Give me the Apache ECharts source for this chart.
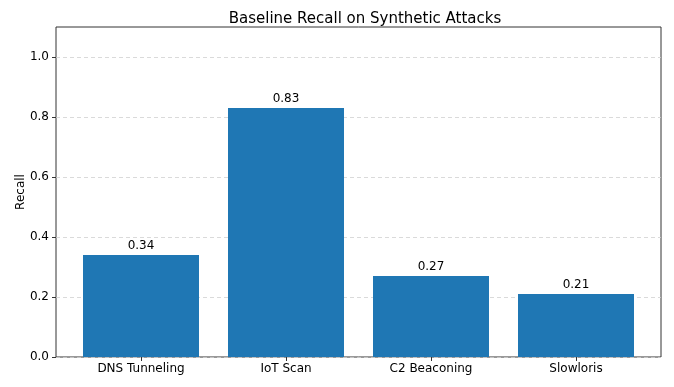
<!DOCTYPE html>
<html><head><meta charset="utf-8">
<script src="https://cdn.jsdelivr.net/npm/echarts@6/dist/echarts.min.js"></script>
<style>html,body{margin:0;padding:0;background:#fff}#c{width:674px;height:387px}</style>
</head><body><div id="c"></div>
<script>
const categories = ["DNS Tunneling", "IoT Scan", "C2 Beaconing", "Slowloris"];
const recall = [0.34, 0.83, 0.27, 0.21];
const yTicks = [0.0, 0.2, 0.4, 0.6, 0.8, 1.0];

const font = "DejaVu Sans";
const chart = echarts.init(document.getElementById('c'), null, {renderer: 'canvas'});
chart.setOption({
  animation: false,
  backgroundColor: '#fff',
  title: {
    text: 'Baseline Recall on Synthetic Attacks',
    left: 360, top: 7, textAlign: 'center',
    textStyle: {fontFamily: font, fontSize: 15, fontWeight: 'normal', color: '#000'}
  },
  grid: [
    {left: 56, right: 13, top: 27, bottom: 30, show: true, borderColor: '#333', borderWidth: 1, backgroundColor: 'transparent'},
    {left: 56, right: 13, top: 57, bottom: 30},
    {left: 68.5, width: 580, top: 27, bottom: 30}
  ],
  xAxis: [
    {gridIndex: 0, type: 'value', min: 0, max: 1, show: false},
    {gridIndex: 1, type: 'value', min: 0, max: 1, show: false},
    {gridIndex: 2, type: 'category', data: categories, boundaryGap: true,
     axisLine: {show: false},
     axisTick: {show: true, alignWithLabel: true, length: 4, lineStyle: {color: '#333'}},
     axisLabel: {fontFamily: font, fontSize: 12, color: '#000', margin: 6, interval: 0}}
  ],
  yAxis: [
    {gridIndex: 0, type: 'value', min: 0, max: 1.1,
     name: 'Recall', nameLocation: 'middle', nameGap: 29,
     nameTextStyle: {fontFamily: font, fontSize: 12, color: '#000'},
     axisLine: {show: false}, axisTick: {show: false}, axisLabel: {show: false},
     splitLine: {show: false}},
    {gridIndex: 1, type: 'value', min: 0, max: 1.0, interval: 0.2,
     axisLine: {show: false},
     axisTick: {show: true, length: 4, lineStyle: {color: '#333'}},
     axisLabel: {fontFamily: font, fontSize: 12, color: '#000', margin: 7,
       formatter: v => v.toFixed(1)},
     splitLine: {show: true, lineStyle: {color: '#d0d0d0', type: [4, 3], width: 0.8}}},
    {gridIndex: 2, type: 'value', min: 0, max: 1.1, show: false, splitLine: {show: false}}
  ],
  series: [{
    type: 'bar', xAxisIndex: 2, yAxisIndex: 2,
    data: recall, barWidth: 116,
    itemStyle: {color: '#1f77b4'},
    label: {show: true, position: 'top', distance: 3, fontFamily: font, fontSize: 12, color: '#000',
      formatter: p => p.value.toFixed(2)}
  }]
});
</script></body></html>
